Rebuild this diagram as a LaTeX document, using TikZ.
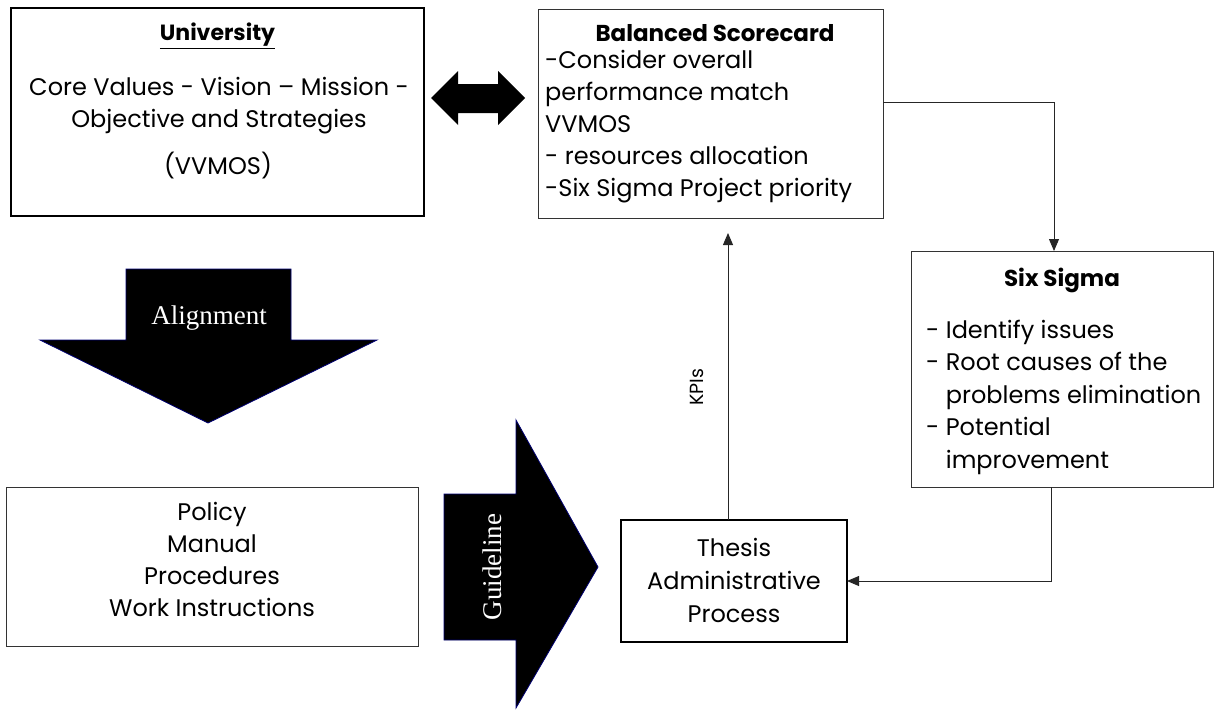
\documentclass[tikz,border=0pt]{standalone}
\usepackage{fontspec}
\setmainfont{Poppins}
\newfontfamily\tnr{Liberation Serif}
\usetikzlibrary{arrows.meta}
\tikzset{
  boxthick/.style={draw=black, line width=1.6pt, inner sep=0pt, outer sep=0pt},
  boxthin/.style={draw=black!80, line width=0.9pt, inner sep=0pt, outer sep=0pt},
  txt/.style={inner sep=0pt, font=\fontsize{24}{32}\selectfont},
  ttl/.style={inner sep=0pt, font=\bfseries\fontsize{23}{32}\selectfont},
  conn/.style={draw=black!85, line width=0.9pt, -{Triangle[length=12pt,width=10pt]}},
  bigarrow/.style={fill=black, draw=blue!45!black, line width=0.8pt, line join=miter},
  wlabel/.style={inner sep=0pt, text=white, font=\tnr\fontsize{27}{30}\selectfont}
}
\begin{document}
\begin{tikzpicture}[x=1pt,y=-1pt]
\useasboundingbox (0,0) rectangle (1214,713);

% boxes
\node[boxthick, minimum width=413pt, minimum height=208pt] (univ) at (217.5,112) {};
\node[boxthin, minimum width=345pt, minimum height=209pt] (bsc) at (710.5,113.5) {};
\node[boxthin, minimum width=302pt, minimum height=236pt] (six) at (1062,369) {};
\node[boxthick, line width=1.3pt, minimum width=226pt, minimum height=122pt] (thesis) at (734,581) {};
\node[boxthin, minimum width=412pt, minimum height=159pt] (policy) at (212,566.5) {};

% university text
\node[ttl, font=\bfseries\fontsize{22}{32}\selectfont] (univt) at (217.5,36) {\underline{University}};
\node[txt, align=center] (univb) at (219,106) {Core Values - Vision – Mission -\\Objective and Strategies};
\node[txt] (univc) at (218,166) {(VVMOS)};

% balanced scorecard text
\node[ttl] (bsct) at (715,33) {Balanced Scorecard};
\node[txt, align=left, anchor=west] (bscb) at (545,127) {-Consider overall\\performance match\\VVMOS\\- resources allocation\\-Six Sigma Project priority};

% six sigma text
\node[ttl] (sixt) at (1062,280) {Six Sigma};
\node[txt, align=left, anchor=west, font=\fontsize{24}{32.5}\selectfont] (sixb) at (926,397) {- Identify issues\\- Root causes of the\\\phantom{- }problems elimination\\- Potential\\\phantom{- }improvement};

% thesis text
\node[txt, align=center, font=\fontsize{24}{33}\selectfont] (thesist) at (734,580) {Thesis\\Administrative\\Process};

% policy text
\node[txt, align=center] (policyt) at (212,559.5) {Policy\\Manual\\Procedures\\Work Instructions};

% double arrow
\path[bigarrow, draw=none] (431,98) -- (458,71) -- (458,84) -- (498,84) -- (498,71) -- (525,98)
  -- (498,125) -- (498,113) -- (458,113) -- (458,125) -- cycle;

% alignment arrow
\path[bigarrow] (126,269) -- (291,269) -- (291,340) -- (377,340) -- (208,423) -- (40,340) -- (126,340) -- cycle;
\node[wlabel] (align) at (209,318) {Alignment};

% guideline arrow
\path[bigarrow] (444,494) -- (516,494) -- (516,420) -- (598,567) -- (516,708) -- (516,640) -- (444,640) -- cycle;
\node[wlabel, rotate=90] (guide) at (492,567) {Guideline};

% connectors
\draw[conn] ([yshift=11.5pt]bsc.east) -| ([xshift=-8pt]six.north);
\draw[conn] ([xshift=-11pt]six.south) |- (thesis.east);
\coordinate (kpiend) at (728,233);
\draw[conn] ([xshift=-6pt]thesis.north) -- (kpiend);
\node[txt, rotate=90, font=\fontsize{19}{20}\selectfont] (kpis) at (697,387) {KPIs};

\end{tikzpicture}
\end{document}
